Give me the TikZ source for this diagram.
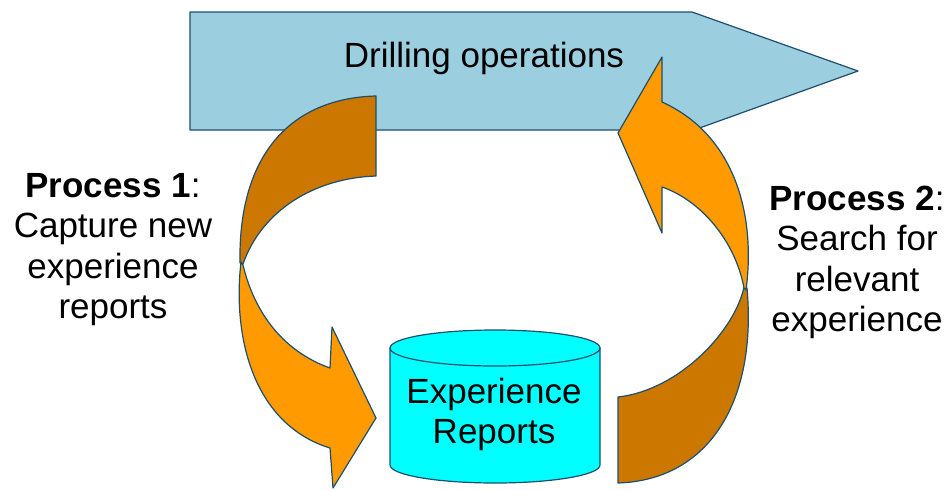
\documentclass[tikz,border=0pt]{standalone}
\usepackage{fontspec}
\setmainfont{Liberation Sans}
\begin{document}
\begin{tikzpicture}[x=1pt,y=-1pt,
  outline/.style={draw=edgeblue,line width=1.2pt,line join=round},
  label/.style={inner sep=0pt,anchor=base,font=\fontsize{35}{40.5}\selectfont},
]
\definecolor{edgeblue}{HTML}{1C4F6E}
\definecolor{bandblue}{HTML}{9BCEDF}
\definecolor{lightorange}{HTML}{FF9A00}
\definecolor{darkorange}{HTML}{CC7800}
\definecolor{dbcyan}{HTML}{00FFFF}
\useasboundingbox (0,0) rectangle (949,490);

% wide arrow for the drilling process
\path[outline,fill=bandblue]
  (190,12) -- (692,12) -- (858,71) -- (694,130) -- (190,130) -- cycle;
\node[label] (drill) at (484,67) {Drilling operations};

% Process 1: twisted arrow from the drilling band down to the database
\path[outline,fill=darkorange]
  (376,96) .. controls (295,98) and (238,150) .. (240,263)
  -- (243,264) .. controls (262,210) and (315,178) .. (376,176) -- cycle;
\path[outline,fill=lightorange]
  (241,262) .. controls (232,340) and (255,425) .. (330,448)
  -- (333,488) -- (376,418) -- (332,327) -- (330,368)
  .. controls (285,352) and (255,315) .. (243,265) -- cycle;

% Process 2: twisted arrow from the database back up to the drilling band
\path[outline,fill=darkorange]
  (618,483) -- (618,397) .. controls (680,390) and (735,330) .. (744,287)
  -- (747,288) .. controls (757,400) and (710,480) .. (618,483) -- cycle;
\path[outline,fill=lightorange]
  (746,290) .. controls (756,215) and (735,135) .. (662,102)
  -- (662,57) -- (618,133) -- (662,233) -- (662,187)
  .. controls (700,200) and (735,240) .. (744,288) -- cycle;

% database cylinder
\path[outline,fill=dbcyan]
  (390,348) -- (390,465) arc[start angle=180,end angle=0,x radius=105,y radius=18]
  -- (600,348) -- cycle;
\path[outline,fill=dbcyan] (495,348) ellipse[x radius=105,y radius=18];
\node[label] (db) at (494,403)
  {\begin{tabular}[t]{@{}c@{}}Experience\\Reports\end{tabular}};

% process captions
\node[label] (p1) at (113,197)
  {\begin{tabular}[t]{@{}c@{}}\textbf{Process 1}:\\Capture new\\experience\\reports\end{tabular}};
\node[label] (p2) at (857,210)
  {\begin{tabular}[t]{@{}c@{}}\textbf{Process 2}:\\Search for\\relevant\\experience\end{tabular}};
\end{tikzpicture}
\end{document}
